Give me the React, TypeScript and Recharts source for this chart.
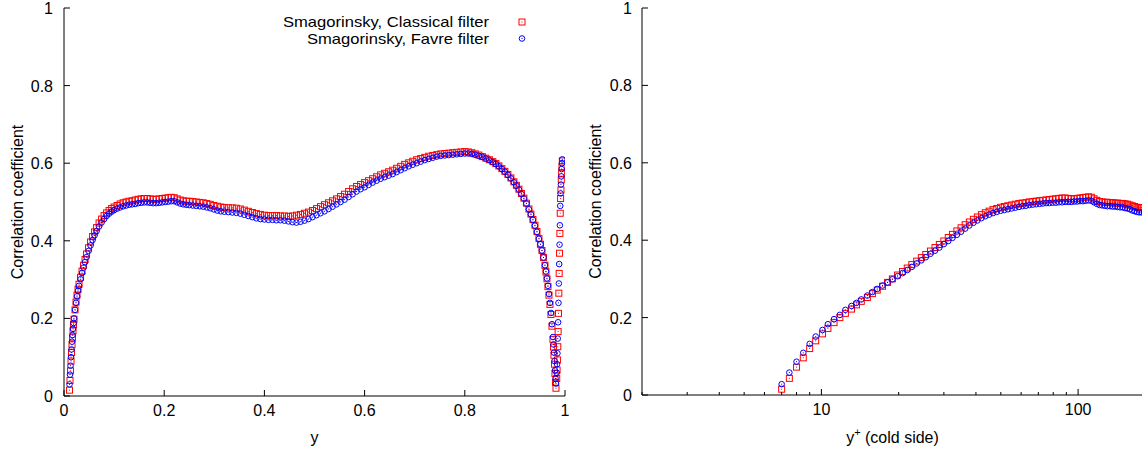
import { ScatterChart, Scatter, XAxis, YAxis, Legend } from "recharts";

const FONT = '"Liberation Sans", Arial, Helvetica, sans-serif';
const RED = "#ff0000";
const BLUE = "#0000ff";
const INK = "#000";

// left panel: correlation coefficient across the channel
const channelY = [
  0.011, 0.012, 0.013, 0.014, 0.015, 0.016, 0.017, 0.018, 0.019, 0.020,
  0.022, 0.024, 0.026, 0.028, 0.030, 0.033, 0.036, 0.039, 0.042, 0.045,
  0.049, 0.053, 0.057, 0.061, 0.065, 0.070, 0.075, 0.080, 0.085, 0.090,
  0.095, 0.100, 0.106, 0.112, 0.118, 0.124, 0.130, 0.136, 0.142, 0.148,
  0.154, 0.160, 0.166, 0.172, 0.178, 0.184, 0.190, 0.196, 0.202, 0.208,
  0.214, 0.220, 0.226, 0.232, 0.238, 0.244, 0.250, 0.257, 0.264, 0.271,
  0.278, 0.285, 0.292, 0.299, 0.306, 0.313, 0.320, 0.328, 0.336, 0.344,
  0.352, 0.360, 0.368, 0.376, 0.384, 0.392, 0.400, 0.408, 0.416, 0.424,
  0.432, 0.440, 0.448, 0.456, 0.464, 0.472, 0.480, 0.488, 0.496, 0.504,
  0.512, 0.520, 0.528, 0.536, 0.544, 0.552, 0.560, 0.568, 0.576, 0.584,
  0.592, 0.600, 0.608, 0.616, 0.624, 0.632, 0.640, 0.648, 0.656, 0.664,
  0.672, 0.680, 0.688, 0.696, 0.704, 0.712, 0.720, 0.728, 0.736, 0.744,
  0.752, 0.760, 0.768, 0.776, 0.784, 0.792, 0.800, 0.807, 0.814, 0.821,
  0.828, 0.835, 0.842, 0.849, 0.856, 0.862, 0.868, 0.874, 0.880, 0.886,
  0.892, 0.898, 0.903, 0.908, 0.913, 0.918, 0.923, 0.928, 0.932, 0.936,
  0.940, 0.944, 0.948, 0.951, 0.954, 0.957, 0.960, 0.962, 0.964, 0.966,
  0.968, 0.970, 0.972, 0.974, 0.976, 0.977, 0.978, 0.979, 0.980, 0.981, 0.982,
  0.9835, 0.9842, 0.9849, 0.9856, 0.9863, 0.9870, 0.9877, 0.9884, 0.9891,
  0.9898, 0.9905, 0.9912, 0.9919, 0.9926, 0.9933, 0.9940, 0.9947,
];

const classicalAcross = [
  0.015, 0.040, 0.065, 0.090, 0.112, 0.132, 0.150, 0.168, 0.184, 0.198,
  0.222, 0.242, 0.260, 0.275, 0.288, 0.306, 0.322, 0.337, 0.352, 0.366,
  0.382, 0.397, 0.411, 0.423, 0.434, 0.446, 0.456, 0.465, 0.472, 0.478,
  0.483, 0.487, 0.491, 0.495, 0.498, 0.500, 0.502, 0.503, 0.505, 0.507,
  0.508, 0.509, 0.509, 0.508, 0.507, 0.507, 0.508, 0.509, 0.510, 0.511,
  0.512, 0.511, 0.508, 0.505, 0.503, 0.502, 0.502, 0.501, 0.500, 0.499,
  0.498, 0.496, 0.494, 0.491, 0.489, 0.487, 0.486, 0.485, 0.485, 0.484,
  0.482, 0.479, 0.476, 0.473, 0.470, 0.468, 0.466, 0.465, 0.465, 0.465,
  0.464, 0.464, 0.463, 0.464, 0.466, 0.468, 0.471, 0.474, 0.478, 0.483,
  0.488, 0.493, 0.498, 0.503, 0.508, 0.514, 0.520, 0.527, 0.534, 0.540,
  0.545, 0.550, 0.555, 0.560, 0.565, 0.570, 0.574, 0.578, 0.582, 0.587,
  0.592, 0.597, 0.601, 0.605, 0.609, 0.612, 0.615, 0.618, 0.620, 0.622,
  0.624, 0.625, 0.626, 0.627, 0.628, 0.629, 0.630, 0.629, 0.627, 0.624,
  0.621, 0.617, 0.613, 0.609, 0.604, 0.599, 0.593, 0.586, 0.579, 0.571,
  0.562, 0.552, 0.543, 0.533, 0.522, 0.510, 0.497, 0.482, 0.469, 0.455,
  0.440, 0.424, 0.406, 0.391, 0.375, 0.357, 0.337, 0.320, 0.302, 0.282,
  0.260, 0.236, 0.210, 0.180, 0.146, 0.126, 0.105, 0.082, 0.058, 0.035, 0.020,
  0.045, 0.067, 0.093, 0.127, 0.166, 0.213, 0.265, 0.316, 0.368,
  0.419, 0.471, 0.509, 0.531, 0.557, 0.574, 0.591, 0.606,
];

const favreAcross = [
  0.030, 0.055, 0.078, 0.100, 0.120, 0.140, 0.157, 0.173, 0.188, 0.200,
  0.222, 0.240, 0.257, 0.271, 0.284, 0.301, 0.317, 0.331, 0.345, 0.358,
  0.374, 0.388, 0.402, 0.414, 0.425, 0.437, 0.447, 0.456, 0.464, 0.470,
  0.475, 0.479, 0.483, 0.486, 0.489, 0.491, 0.493, 0.494, 0.495, 0.497,
  0.498, 0.499, 0.499, 0.498, 0.497, 0.497, 0.498, 0.499, 0.500, 0.501,
  0.502, 0.502, 0.499, 0.496, 0.494, 0.493, 0.492, 0.491, 0.490, 0.489,
  0.488, 0.486, 0.484, 0.481, 0.478, 0.476, 0.475, 0.474, 0.473, 0.472,
  0.470, 0.467, 0.464, 0.461, 0.458, 0.456, 0.455, 0.454, 0.454, 0.453,
  0.453, 0.452, 0.450, 0.448, 0.447, 0.449, 0.452, 0.456, 0.461, 0.466,
  0.471, 0.476, 0.482, 0.488, 0.494, 0.500, 0.506, 0.513, 0.520, 0.527,
  0.533, 0.538, 0.544, 0.550, 0.555, 0.560, 0.564, 0.568, 0.572, 0.577,
  0.582, 0.587, 0.592, 0.596, 0.600, 0.604, 0.608, 0.611, 0.614, 0.617,
  0.619, 0.620, 0.621, 0.622, 0.623, 0.624, 0.625, 0.625, 0.624, 0.622,
  0.619, 0.616, 0.612, 0.608, 0.603, 0.598, 0.592, 0.585, 0.578, 0.570,
  0.561, 0.551, 0.542, 0.532, 0.521, 0.509, 0.496, 0.481, 0.468, 0.454,
  0.439, 0.423, 0.405, 0.391, 0.375, 0.357, 0.337, 0.321, 0.303, 0.284,
  0.263, 0.240, 0.214, 0.185, 0.152, 0.133, 0.112, 0.090, 0.066, 0.045, 0.032,
  0.060, 0.082, 0.110, 0.148, 0.190, 0.240, 0.290, 0.340, 0.390,
  0.440, 0.490, 0.522, 0.545, 0.566, 0.585, 0.600, 0.610,
];

// right panel: same coefficient against y+ from the cold wall
const yPlusCold = [
  7.0, 7.5, 8.0, 8.5, 9.0, 9.5, 10.1, 10.6, 11.2, 11.8,
  12.4, 13.1, 13.7, 14.3, 15.1, 15.8, 16.5, 17.3, 18.1, 18.9,
  19.8, 20.7, 21.6, 22.5, 23.5, 24.5, 25.5, 26.6, 27.7, 28.8,
  30.0, 31.2, 32.4, 33.7, 35.0, 36.3, 37.7, 39.1, 40.5, 42.0,
  43.5, 45.0, 46.6, 48.2, 49.9, 51.6, 53.3, 55.1, 56.9, 58.8,
  60.7, 62.6, 64.6, 66.6, 68.7, 70.8, 72.9, 75.1, 77.3, 79.6,
  81.9, 84.2, 86.6, 89.0, 91.5, 94.0, 96.5, 99.1, 101.7, 104.4,
  107.1, 109.8, 112.6, 115.4, 118.3, 121.2, 124.1, 127.1, 130.1, 133.2,
  136.3, 139.4, 142.6, 145.8, 149.1, 152.4, 155.7, 159.1, 162.5, 166.0,
  169.5, 173.0, 176.6, 180.2,
];

const classicalCold = [
  0.015, 0.043, 0.072, 0.096, 0.120, 0.140, 0.158, 0.172, 0.187, 0.200,
  0.211, 0.222, 0.233, 0.242, 0.252, 0.262, 0.271, 0.281, 0.291, 0.300,
  0.310, 0.319, 0.328, 0.337, 0.346, 0.355, 0.363, 0.372, 0.381, 0.389,
  0.398, 0.407, 0.415, 0.424, 0.432, 0.440, 0.447, 0.454, 0.460, 0.466,
  0.471, 0.475, 0.479, 0.482, 0.485, 0.487, 0.489, 0.491, 0.493, 0.495,
  0.496, 0.497, 0.499, 0.500, 0.501, 0.502, 0.503, 0.504, 0.505, 0.506,
  0.507, 0.508, 0.509, 0.509, 0.508, 0.507, 0.507, 0.508, 0.509, 0.510,
  0.511, 0.512, 0.511, 0.507, 0.503, 0.500, 0.499, 0.498, 0.498, 0.497,
  0.497, 0.496, 0.496, 0.495, 0.495, 0.494, 0.493, 0.491, 0.489, 0.487,
  0.485, 0.484, 0.484, 0.484,
];

const favreCold = [
  0.028, 0.058, 0.086, 0.109, 0.132, 0.151, 0.168, 0.183, 0.196, 0.207,
  0.220, 0.230, 0.238, 0.247, 0.257, 0.266, 0.274, 0.283, 0.291, 0.299,
  0.307, 0.315, 0.323, 0.331, 0.340, 0.348, 0.356, 0.365, 0.373, 0.381,
  0.390, 0.398, 0.406, 0.414, 0.422, 0.430, 0.438, 0.445, 0.451, 0.457,
  0.462, 0.466, 0.470, 0.473, 0.476, 0.478, 0.480, 0.482, 0.484, 0.486,
  0.488, 0.489, 0.491, 0.492, 0.493, 0.494, 0.495, 0.496, 0.496, 0.497,
  0.497, 0.498, 0.498, 0.499, 0.499, 0.499, 0.500, 0.500, 0.501, 0.501,
  0.502, 0.503, 0.502, 0.498, 0.494, 0.491, 0.490, 0.489, 0.488, 0.488,
  0.487, 0.487, 0.486, 0.485, 0.485, 0.483, 0.482, 0.480, 0.477, 0.475,
  0.473, 0.472, 0.472, 0.472,
];

const seriesNames = ["Smagorinsky, Classical filter", "Smagorinsky, Favre filter"];
const legendWidths = [206, 182];
const linearTicks = [0, 0.2, 0.4, 0.6, 0.8, 1];
const logMajor = [10, 100];
const logTicks = [2, 3, 4, 5, 6, 7, 8, 9, 10, 20, 30, 40, 50, 60, 70, 80, 90, 100];

const FS = 16;

const toPoints = (xs: number[], ys: number[]) => xs.map((x, i) => ({ x, y: ys[i] }));

const RedSquare = (p: any) => (
  <g>
    <rect x={p.cx - 3} y={p.cy - 3} width={6} height={6} fill="none" stroke={RED} strokeWidth={1} />
    <rect x={p.cx - 0.5} y={p.cy - 0.5} width={1} height={1} fill={RED} />
  </g>
);

const BlueCircle = (p: any) => (
  <g>
    <circle cx={p.cx} cy={p.cy} r={2.8} fill="none" stroke={BLUE} strokeWidth={1} />
    <rect x={p.cx - 0.5} y={p.cy - 0.5} width={1} height={1} fill={BLUE} />
  </g>
);

type Side = "bottom" | "top" | "left" | "right";

// gnuplot-style ticks: pointing into the frame, labels outside
const edgeTick = (side: Side, labelled: boolean, major?: number[], gap = 11) => (props: any) => {
  const { x, y, payload } = props;
  const v = payload.value;
  const isMajor = !major || major.includes(v);
  const len = isMajor ? 6 : 3;
  let line;
  let text = null;
  if (side === "bottom") {
    line = <line x1={x} y1={y} x2={x} y2={y - len} stroke={INK} />;
    if (labelled && isMajor) text = <text x={x} y={y + 20} textAnchor="middle">{String(v)}</text>;
  } else if (side === "top") {
    line = <line x1={x} y1={y} x2={x} y2={y + len} stroke={INK} />;
  } else if (side === "left") {
    line = <line x1={x} y1={y} x2={x + len} y2={y} stroke={INK} />;
    if (labelled) text = <text x={x - gap} y={y + 6} textAnchor="end">{String(v)}</text>;
  } else {
    line = <line x1={x} y1={y} x2={x - len} y2={y} stroke={INK} />;
  }
  return (
    <g fontFamily={FONT} fontSize={FS} fill={INK}>
      {line}
      {text}
    </g>
  );
};

const yTitle = (dx: number) => (props: any) => {
  const vb = props.viewBox;
  const cx = vb.x + dx;
  const cy = vb.y + vb.height / 2;
  return (
    <text x={cx} y={cy} transform={`rotate(-90 ${cx} ${cy})`} textAnchor="middle" dominantBaseline="central" fontFamily={FONT} fontSize={FS} fill={INK}>
      Correlation coefficient
    </text>
  );
};

const xTitleLeft = (props: any) => {
  const vb = props.viewBox;
  return (
    <text x={vb.x + vb.width / 2} y={vb.y + 47} textAnchor="middle" fontFamily={FONT} fontSize={FS} fill={INK}>
      y
    </text>
  );
};

const xTitleRight = (props: any) => {
  const vb = props.viewBox;
  return (
    <text x={vb.x + vb.width / 2} y={vb.y + 48} textAnchor="middle" fontFamily={FONT} fontSize={FS} fill={INK}>
      y<tspan dy={-7} fontSize={11}>+</tspan>
      <tspan dy={7}> (cold side)</tspan>
    </text>
  );
};

// legend drawn in svg; rows kept just far enough apart that their boxes do not touch
const LegendBox = (props: any) => {
  const items = props.payload || [];
  return (
    <svg width={300} height={36} style={{ display: "block", overflow: "visible" }}>
      {items.map((entry: any, i: number) => {
        const cy = 8 + i * 16.5;
        const w = legendWidths[i] || 200;
        return (
          <g key={entry.value}>
            <text x={249 - w} y={cy + 5} textLength={w} lengthAdjust="spacingAndGlyphs"
              fontFamily={FONT} fontSize={14.5} fill={INK}>
              {entry.value}
            </text>
            {i === 0 ? <RedSquare cx={282} cy={cy} /> : <BlueCircle cx={282} cy={cy} />}
          </g>
        );
      })}
    </svg>
  );
};

const frameAxis = { stroke: INK, strokeWidth: 1 };

export default function App() {
  const leftC = toPoints(channelY, classicalAcross);
  const leftF = toPoints(channelY, favreAcross);
  const rightC = toPoints(yPlusCold, classicalCold);
  const rightF = toPoints(yPlusCold, favreCold);

  return (
    <div style={{ position: "absolute", left: 0, top: 0, width: 1142, height: 455, overflow: "hidden", background: "#fff" }}>
      <div style={{ position: "absolute", left: 0, top: 0 }}>
        <ScatterChart width={580} height={455} margin={{ top: 8, right: 15, bottom: 0, left: 0 }}>
          <XAxis type="number" dataKey="x" domain={[0, 1]} ticks={linearTicks} interval={0} allowDataOverflow
            height={59} tickSize={0} tickMargin={0} tickLine={false} axisLine={frameAxis}
            tick={edgeTick("bottom", true)} label={xTitleLeft} />
          <XAxis xAxisId="mirror" orientation="top" type="number" domain={[0, 1]} ticks={linearTicks} interval={0} allowDataOverflow
            height={0} tickSize={0} tickMargin={0} tickLine={false} axisLine={frameAxis} tick={edgeTick("top", false)} />
          <YAxis type="number" dataKey="y" domain={[0, 1]} ticks={linearTicks} interval={0} allowDataOverflow
            width={64} tickSize={0} tickMargin={0} tickLine={false} axisLine={frameAxis}
            tick={edgeTick("left", true, undefined, 11)} label={yTitle(17)} />
          <YAxis yAxisId="mirror" orientation="right" type="number" domain={[0, 1]} ticks={linearTicks} interval={0} allowDataOverflow
            width={0} tickSize={0} tickMargin={0} tickLine={false} axisLine={frameAxis} tick={edgeTick("right", false)} />
          <Legend layout="vertical" align="center" verticalAlign="middle" content={LegendBox}
            wrapperStyle={{ left: 240, top: 14, width: 300, height: 36 }} />
          <Scatter name={seriesNames[0]} data={leftC} shape={RedSquare} isAnimationActive={false} />
          <Scatter name={seriesNames[1]} data={leftF} shape={BlueCircle} isAnimationActive={false} />
        </ScatterChart>
      </div>
      <div style={{ position: "absolute", left: 580, top: 0 }}>
        <ScatterChart width={565} height={455} margin={{ top: 8, right: 2, bottom: 0, left: 0 }}>
          <XAxis type="number" dataKey="x" scale="log" domain={[2, 179]} ticks={logTicks} interval={0} allowDataOverflow
            height={60} tickSize={0} tickMargin={0} tickLine={false} axisLine={frameAxis}
            tick={edgeTick("bottom", true, logMajor)} label={xTitleRight} />
          <XAxis xAxisId="mirror" orientation="top" type="number" scale="log" domain={[2, 179]} ticks={logTicks} interval={0} allowDataOverflow
            height={0} tickSize={0} tickMargin={0} tickLine={false} axisLine={frameAxis} tick={edgeTick("top", false, logMajor)} />
          <YAxis type="number" dataKey="y" domain={[0, 1]} ticks={linearTicks} interval={0} allowDataOverflow
            width={62} tickSize={0} tickMargin={0} tickLine={false} axisLine={frameAxis}
            tick={edgeTick("left", true, undefined, 10)} label={yTitle(15)} />
          <YAxis yAxisId="mirror" orientation="right" type="number" domain={[0, 1]} ticks={linearTicks} interval={0} allowDataOverflow
            width={0} tickSize={0} tickMargin={0} tickLine={false} axisLine={frameAxis} tick={edgeTick("right", false)} />
          <Scatter name={seriesNames[0]} data={rightC} shape={RedSquare} isAnimationActive={false} />
          <Scatter name={seriesNames[1]} data={rightF} shape={BlueCircle} isAnimationActive={false} />
        </ScatterChart>
      </div>
    </div>
  );
}
